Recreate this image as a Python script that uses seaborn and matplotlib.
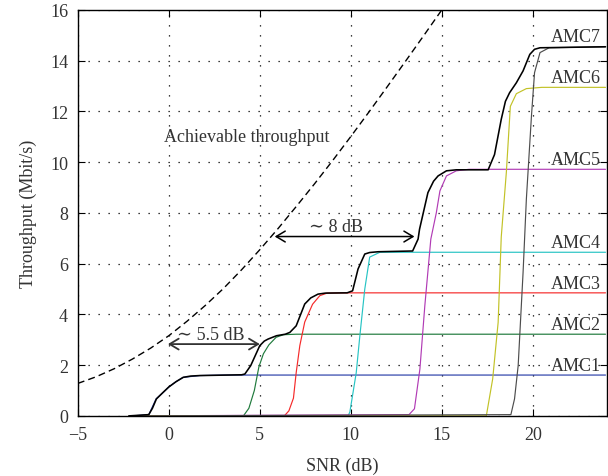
import matplotlib
matplotlib.use("Agg")
import matplotlib.pyplot as plt
import seaborn as sns
import pandas as pd

# ---- data ----
snr_ach = [-5, -4, -3, -2, -1, 0, 1, 2, 3, 4, 5, 6, 7, 8, 9, 10, 11, 12, 13, 14, 15, 16]
thr_ach = [1.28, 1.54, 1.86, 2.24, 2.67, 3.16, 3.73, 4.35, 5.02, 5.76, 6.55, 7.38,
           8.25, 9.14, 10.06, 11.01, 11.98, 12.97, 13.97, 14.98, 16.0, 17.02]

snr_amc1 = [-2, -1.1, -0.7, -0.3, 0, 0.4, 0.8, 1.7, 3, 24]
thr_amc1 = [0, 0.05, 0.67, 0.93, 1.14, 1.35, 1.52, 1.59, 1.61, 1.61]

snr_amc2 = [-2, 4.1, 4.4, 4.7, 4.95, 5.2, 5.5, 5.9, 6.3, 7, 24]
thr_amc2 = [0, 0, 0.3, 1.0, 1.93, 2.45, 2.8, 3.1, 3.2, 3.22, 3.22]

snr_amc3 = [-2, 6.35, 6.6, 6.85, 7.0, 7.2, 7.47, 7.9, 8.3, 8.7, 9.5, 24]
thr_amc3 = [0, 0, 0.2, 0.7, 1.7, 2.77, 3.7, 4.4, 4.74, 4.84, 4.85, 4.85]

snr_amc4 = [-2, 9.85, 9.95, 10.3, 10.5, 10.77, 11.04, 11.6, 12, 24]
thr_amc4 = [0, 0, 0.15, 1.7, 3.16, 5.0, 6.26, 6.45, 6.45, 6.45]

snr_amc5 = [-2, 13.2, 13.5, 13.8, 14.07, 14.4, 14.7, 14.9, 15.26, 15.8, 16.5, 24]
thr_amc5 = [0, 0.05, 0.28, 1.85, 4.34, 6.97, 8.0, 8.87, 9.46, 9.66, 9.72, 9.72]

snr_amc6 = [-2, 17.45, 17.8, 18.1, 18.27, 18.55, 18.77, 19.1, 19.65, 20.5, 24]
thr_amc6 = [0, 0, 1.46, 3.69, 7.05, 9.6, 12.2, 12.7, 12.9, 12.95, 12.95]

snr_amc7 = [-2, 18.8, 19.0, 19.2, 19.47, 19.65, 19.93, 20.1, 20.4, 20.9, 24]
thr_amc7 = [0, 0.05, 0.67, 1.98, 5.66, 8.54, 11.82, 13.53, 14.32, 14.51, 14.55]

snr_env = [-2.2, -1.1, -0.9, -0.68, -0.31, 0, 0.4, 0.79, 1.2, 1.7, 4.0, 4.18, 4.5,
           5.0, 5.25, 5.46, 5.92, 6.4, 6.65, 7.0, 7.47, 7.8, 8.2, 8.6, 9.8, 10.1,
           10.4, 10.77, 11.04, 11.5, 13.4, 13.7, 13.78, 14.24, 14.55, 14.8, 15.26,
           15.8, 17.55, 17.9, 18.27, 18.5, 18.73, 19.1, 19.47, 19.84, 20.1, 20.4, 24]
thr_env = [0, 0.05, 0.3, 0.67, 0.93, 1.14, 1.35, 1.52, 1.57, 1.59, 1.62, 1.65, 1.98,
           2.77, 2.95, 3.03, 3.16, 3.22, 3.29, 3.55, 4.41, 4.65, 4.8, 4.84, 4.85, 4.93,
           5.79, 6.38, 6.44, 6.47, 6.5, 6.97, 7.36, 8.8, 9.25, 9.46, 9.66,
           9.70, 9.70, 10.3, 11.69, 12.4, 12.74, 13.13, 13.6, 14.25, 14.45, 14.51, 14.55]

amc_names = ["AMC1", "AMC2", "AMC3", "AMC4", "AMC5", "AMC6", "AMC7"]
amc_colors = ["#2b3fa8", "#1f7a3c", "#f52a2a", "#27c4c4", "#b13bb5", "#c2c227", "#4d4d4d"]
amc_snr = [snr_amc1, snr_amc2, snr_amc3, snr_amc4, snr_amc5, snr_amc6, snr_amc7]
amc_thr = [thr_amc1, thr_amc2, thr_amc3, thr_amc4, thr_amc5, thr_amc6, thr_amc7]

x_ticks = [-5, 0, 5, 10, 15, 20]
x_tick_labels = ["−5", "0", "5", "10", "15", "20"]
y_ticks = [0, 2, 4, 6, 8, 10, 12, 14, 16]

# ---- style ----
sns.set_style("ticks")
plt.rcParams["font.family"] = ["Liberation Serif", "DejaVu Serif"]
plt.rcParams["font.size"] = 13
text_col = "#333333"

fig = plt.figure(figsize=(6.08, 4.77), dpi=100)
ax = fig.add_axes([0.128, 0.126, 0.870, 0.851])

for name, col, xs, ys in zip(amc_names, amc_colors, amc_snr, amc_thr):
    df = pd.DataFrame({"snr": xs, "thr": ys})
    sns.lineplot(data=df, x="snr", y="thr", ax=ax, color=col, linewidth=0.85,
                 sort=False, estimator=None)
    ax.text(23.75, ys[-1] + 0.05, name, ha="right", va="bottom",
            color=text_col, fontsize=13)

df_env = pd.DataFrame({"snr": snr_env, "thr": thr_env})
sns.lineplot(data=df_env, x="snr", y="thr", ax=ax, color="black", linewidth=1.15,
             sort=False, estimator=None)

df_ach = pd.DataFrame({"snr": snr_ach, "thr": thr_ach})
sns.lineplot(data=df_ach, x="snr", y="thr", ax=ax, color="black", linewidth=1.0,
             sort=False, estimator=None, linestyle=(0, (5, 3)))

# annotations
ax.text(4.27, 11.03, "Achievable throughput", ha="center", va="center",
        color=text_col, fontsize=13)
ax.annotate("", xy=(-0.05, 2.83), xytext=(5.0, 2.83),
            arrowprops=dict(arrowstyle="<->,head_length=0.5,head_width=0.3",
                            color="#333333", lw=1.3, shrinkA=0, shrinkB=0))
ax.text(2.3, 3.22, "∼ 5.5 dB", ha="center", va="center", color=text_col, fontsize=13)
ax.annotate("", xy=(5.82, 7.07), xytext=(13.5, 7.07),
            arrowprops=dict(arrowstyle="<->,head_length=0.5,head_width=0.3",
                            color="black", lw=1.1, shrinkA=0, shrinkB=0))
ax.text(9.2, 7.45, "∼ 8 dB", ha="center", va="center", color=text_col, fontsize=13)

ax.set_xlim(-5, 24.07)
ax.set_ylim(0, 16)
ax.set_xticks(x_ticks)
ax.set_yticks(y_ticks)
ax.set_xticklabels(x_tick_labels)
ax.grid(True, color="black", linestyle=(0, (1, 7)), linewidth=0.9)
ax.tick_params(direction="in", top=True, right=True, length=5, width=0.8,
               colors="black", labelcolor=text_col, labelsize=13, pad=7)
for s in ax.spines.values():
    s.set_color("black")
    s.set_linewidth(1.0)
ax.set_xlabel("SNR (dB)", color=text_col, fontsize=13, labelpad=10)
ax.set_ylabel("Throughput (Mbit/s)", color=text_col, fontsize=13, labelpad=9)

fig.savefig("out.png", dpi=100)
